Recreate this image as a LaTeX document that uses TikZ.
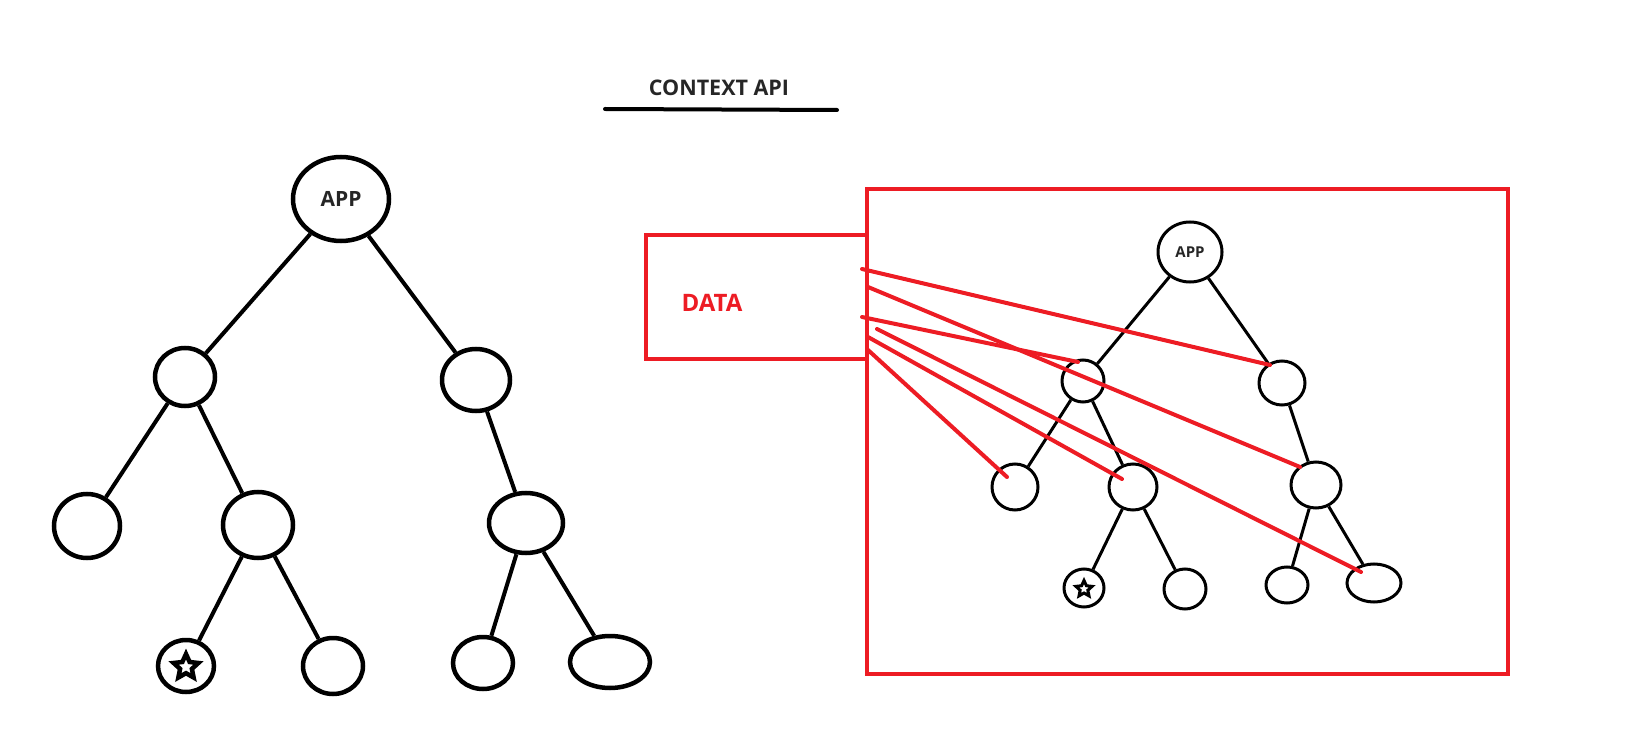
\documentclass[tikz,border=0pt]{standalone}
\usepackage{fontspec}
\setmainfont{Open Sans}
\usetikzlibrary{shapes.geometric}
\definecolor{pred}{HTML}{ED1C24}
\definecolor{txt}{HTML}{262626}
\tikzset{
  lnode/.style={ellipse, draw=black, line width=4.5pt, inner sep=0pt},
  rnode/.style={ellipse, draw=black, line width=3pt, inner sep=0pt},
  ledge/.style={draw=black, line width=4pt},
  redge/.style={draw=black, line width=3pt},
  redline/.style={draw=pred, line width=4pt, line cap=round},
  redbox/.style={draw=pred, line width=4.5pt},
  starmark/.style={star, star points=5, star point ratio=2.1, draw=black, inner sep=0pt},
}
\begin{document}
\begin{tikzpicture}[x=1pt,y=-1pt]
\useasboundingbox (0,0) rectangle (1639,751);
\fill[white] (0,0) rectangle (1639,751);

% title
\node[font=\bfseries\fontsize{21.5}{26}\selectfont, text=txt] (title) at (719,88) {CONTEXT API};
\coordinate (u1) at (605,109);
\coordinate (u2) at (837,110);
\draw[line width=4pt, line cap=round] (u1) -- (u2);

% left tree
\node[lnode, minimum width=96pt, minimum height=84pt, font=\bfseries\fontsize{21}{25}\selectfont, text=txt] (lapp) at (341,199) {APP};
\node[lnode, minimum width=60pt, minimum height=58pt] (l2a) at (185,377) {};
\node[lnode, minimum width=68pt, minimum height=62pt] (l2b) at (476,380) {};
\node[lnode, minimum width=66pt, minimum height=64pt] (l3a) at (87,526) {};
\node[lnode, minimum width=70pt, minimum height=66pt] (l3b) at (258,525) {};
\node[lnode, minimum width=74pt, minimum height=60pt] (l3c) at (526,523) {};
\node[lnode, minimum width=56pt, minimum height=52pt] (l4a) at (186,666) {};
\node[lnode, minimum width=60pt, minimum height=56pt] (l4b) at (333,666) {};
\node[lnode, minimum width=60pt, minimum height=52pt] (l4c) at (483,663) {};
\node[lnode, minimum width=80pt, minimum height=52pt] (l4d) at (610,662) {};
\node[starmark, line width=4.5pt, minimum size=26pt] (l4astar) at (186,667) {};

\draw[ledge] (lapp) -- (l2a);
\draw[ledge] (lapp) -- (l2b);
\draw[ledge] (l2a) -- (l3a);
\draw[ledge] (l2a) -- (l3b);
\draw[ledge] (l2b) -- (l3c);
\draw[ledge] (l3b) -- (l4a);
\draw[ledge] (l3b) -- (l4b);
\draw[ledge] (l3c) -- (l4c);
\draw[ledge] (l3c) -- (l4d);

% red boxes
\node[redbox, minimum width=641pt, minimum height=485pt, inner sep=0pt] (bigbox) at (1187.5,431.5) {};
\node[redbox, minimum width=221pt, minimum height=124pt, inner sep=0pt] (databox) at (756.5,297) {};
\node[font=\bfseries\fontsize{24}{28}\selectfont, text=pred] (datatext) at (712,303) {DATA};

% right tree
\node[rnode, minimum width=64pt, minimum height=60pt, font=\bfseries\fontsize{15}{18}\selectfont, text=txt] (rapp) at (1190,252) {APP};
\node[rnode, minimum width=42pt, minimum height=42pt] (r2a) at (1083,381) {};
\node[rnode, minimum width=46pt, minimum height=44pt] (r2b) at (1282,383) {};
\node[rnode, minimum width=46pt, minimum height=46pt] (r3a) at (1015,487) {};
\node[rnode, minimum width=48pt, minimum height=46pt] (r3b) at (1133,487) {};
\node[rnode, minimum width=50pt, minimum height=46pt] (r3c) at (1316,485) {};
\node[rnode, minimum width=40pt, minimum height=38pt] (r4a) at (1084,588) {};
\node[rnode, minimum width=42pt, minimum height=40pt] (r4b) at (1185,589) {};
\node[rnode, minimum width=42pt, minimum height=36pt] (r4c) at (1287,585) {};
\node[rnode, minimum width=54pt, minimum height=38pt] (r4d) at (1374,583) {};
\node[starmark, line width=3pt, minimum size=17pt] (r4astar) at (1084,589) {};

\draw[redge] (rapp) -- (r2a);
\draw[redge] (rapp) -- (r2b);
\draw[redge] (r2a) -- (r3a);
\draw[redge] (r2a) -- (r3b);
\draw[redge] (r2b) -- (r3c);
\draw[redge] (r3b) -- (r4a);
\draw[redge] (r3b) -- (r4b);
\draw[redge] (r3c) -- (r4c);
\draw[redge] (r3c) -- (r4d);

% red connectors
\coordinate (d1) at (862,269);
\coordinate (d2) at (868,287);
\coordinate (d3) at (862,317);
\coordinate (d4) at (877,329);
\coordinate (d5) at (868,337);
\coordinate (d6) at (868,350);
\draw[redline] (d1) -- ([shift={(-12,-18)}]r2b.center);
\draw[redline] (d2) -- ([shift={(-16,-18)}]r3c.center);
\draw[redline] (d3) -- ([shift={(-5,-19)}]r2a.center);
\draw[redline] (d4) -- ([shift={(-13,-11)}]r4d.center);
\draw[redline] (d5) -- ([shift={(-11,-8)}]r3b.center);
\draw[redline] (d6) -- ([shift={(-8,-10)}]r3a.center);
\end{tikzpicture}
\end{document}
